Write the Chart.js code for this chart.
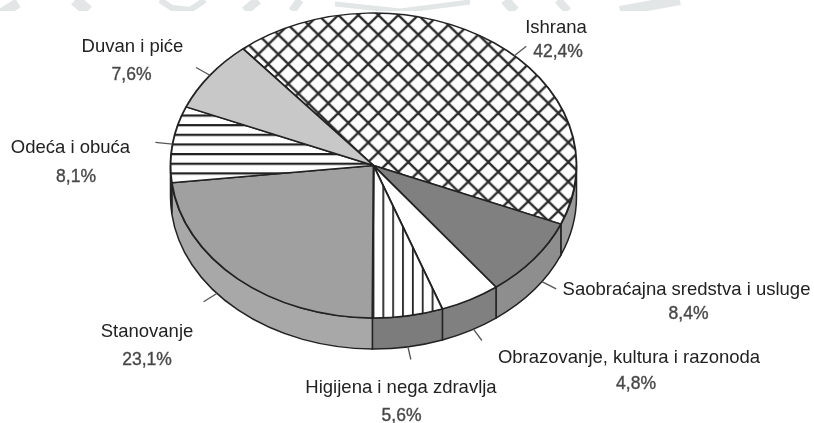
<!DOCTYPE html>
<html>
<head>
<meta charset="utf-8">
<style>
html, body { margin: 0; padding: 0; background: #fff; }
#wrap { position: relative; width: 814px; height: 423px; }
</style>
<script src="https://cdn.jsdelivr.net/npm/chart.js@4"></script>
</head>
<body>
<div id="wrap"><canvas id="grafica" width="814" height="423"></canvas></div>
<script>
const categorias = ['Ishrana', 'Saobraćajna sredstva i usluge', 'Obrazovanje, kultura i razonoda',
    'Higijena i nega zdravlja', 'Stanovanje', 'Odeća i obuća', 'Duvan i piće'];
const valores = [42.4, 8.4, 4.8, 5.6, 23.1, 8.1, 7.6];

// colores del borde lateral
const coloresLado = ['#9a9a9a', '#8e8e8e', '#808080', '#7c7c7c', '#a8a8a8', '#a8a8a8', '#a8a8a8'];

// geometria del pie "3D"
const centroY = 165.5, radio = 203, aplastar = 0.751, grosor = 31;

// donde va cada etiqueta: [x centro nombre, y nombre, x centro %, y %]
const posEtiquetas = [
    [556, 28, 558, 52],
    [686.5, 290, 688.5, 314],
    [629, 358, 636, 384],
    [401, 388, 401.5, 416],
    [147, 332, 147, 360],
    [70.5, 148, 76, 177],
    [132.5, 47, 131.5, 75]
];
// ajuste en grados de la marquita respecto a la mitad del sector
const ajusteMarca = [7.6, -3.8, -1, 0, 8.6, 0, 0];

// marca de agua que asoma arriba de la imagen
const marcaAgua = [
    [[0, 14], [18, 3], 10], [[75, 0], [88, 11], 12],
    [[160, 0], [172, 8], [190, 10], [205, 0], 6], [[258, 0], [245, 11], 9],
    [[300, 0], [292, 11], 8], [[335, 4], [400, 11], [470, 2], 5],
    [[505, 0], [515, 11], 10], [[558, 0], [568, 11], 8], [[680, 0], [620, 11], 10]
];

function patron(tipo, cy) {
    const t = document.createElement('canvas');
    const g = t.getContext('2d');
    let m = new DOMMatrix();
    if (tipo === 'h') {
        t.width = 10; t.height = 10;
        g.fillStyle = '#fff'; g.fillRect(0, 0, 10, 10);
        g.fillStyle = '#222'; g.fillRect(0, 0, 10, 2.3);
        m = m.translate(0, cy + (153 - centroY) / aplastar).scale(1, 0.965 / aplastar);
    } else if (tipo === 'v') {
        t.width = 10; t.height = 10;
        g.fillStyle = '#fff'; g.fillRect(0, 0, 10, 10);
        g.fillStyle = '#222'; g.fillRect(0, 0, 1.8, 10);
        m = m.translate(372.5, 0).scale(0.985, 1);
    } else {
        t.width = 20; t.height = 20;
        g.fillStyle = '#fff'; g.fillRect(0, 0, 20, 20);
        g.strokeStyle = '#2a2a2a'; g.lineWidth = 2.3;
        g.beginPath();
        g.moveTo(-10, 10); g.lineTo(10, -10);
        g.moveTo(0, 20); g.lineTo(20, 0);
        g.moveTo(10, 30); g.lineTo(30, 10);
        g.moveTo(-10, 10); g.lineTo(10, 30);
        g.moveTo(0, 0); g.lineTo(20, 20);
        g.moveTo(10, -10); g.lineTo(30, 10);
        g.stroke();
        m = m.translate(8.3, -1.9).scale(1, 0.98 / aplastar);
    }
    const p = g.createPattern(t, 'repeat');
    p.setTransform(m);
    return p;
}

const centroCanvas = 211.5;
const coloresCara = [patron('x', centroCanvas), '#808080', '#ffffff', patron('v', centroCanvas), '#a0a0a0', patron('h', centroCanvas), '#c8c8c8'];

const pie3d = {
    id: 'pie3d',
    beforeDraw(chart) {
        const ctx = chart.ctx;
        ctx.save();
        ctx.beginPath();
        ctx.rect(0, 0, 814, 11);
        ctx.clip();
        ctx.strokeStyle = '#e3e6e6';
        marcaAgua.forEach(trazo => {
            ctx.lineWidth = trazo[trazo.length - 1];
            ctx.beginPath();
            trazo.slice(0, -1).forEach(p => ctx.lineTo(p[0], p[1]));
            ctx.stroke();
        });
        ctx.restore();
    },
    beforeDatasetsDraw(chart) {
        const ctx = chart.ctx;
        const arcos = chart.getDatasetMeta(0).data;
        const cx = arcos[0].x, cy = arcos[0].y;

        // borde lateral, solo la mitad de adelante
        ctx.save();
        ctx.lineWidth = 1.5;
        ctx.strokeStyle = '#222';
        arcos.forEach((a, i) => {
            const a0 = Math.max(a.startAngle, 0);
            const a1 = Math.min(a.endAngle, Math.PI);
            if (a1 <= a0) return;
            ctx.beginPath();
            ctx.ellipse(cx, centroY, radio, radio * aplastar, 0, a0, a1);
            ctx.ellipse(cx, centroY + grosor, radio, radio * aplastar, 0, a1, a0, true);
            ctx.closePath();
            ctx.fillStyle = coloresLado[i];
            ctx.fill();
            ctx.stroke();
        });
        ctx.restore();

        // cara de arriba aplastada
        ctx.save();
        ctx.translate(0, centroY);
        ctx.scale(1, aplastar);
        ctx.translate(0, -cy);
    },
    afterDatasetsDraw(chart) {
        const ctx = chart.ctx;
        ctx.restore();

        const arcos = chart.getDatasetMeta(0).data;
        ctx.save();
        ctx.textAlign = 'center';
        ctx.textBaseline = 'middle';
        arcos.forEach((a, i) => {
            const medio = (a.startAngle + a.endAngle) / 2 + ajusteMarca[i] * Math.PI / 180;
            const dx = Math.cos(medio), dy = Math.sin(medio);
            const extra = (dy > 0 && Math.abs(dx) < 0.95) ? grosor : 0;
            ctx.strokeStyle = '#555';
            ctx.lineWidth = 1.3;
            ctx.beginPath();
            ctx.moveTo(a.x + dx * radio, centroY + extra + dy * radio * aplastar);
            ctx.lineTo(a.x + dx * radio * 1.085, centroY + extra + dy * radio * aplastar * 1.085);
            ctx.stroke();

            const p = posEtiquetas[i];
            ctx.fillStyle = '#222';
            ctx.font = '18.5px "Liberation Sans"';
            ctx.fillText(categorias[i], p[0], p[1]);

            // el porcentaje se ve un poco mas grueso y gris
            const pct = valores[i].toFixed(1).replace('.', ',') + '%';
            ctx.font = '17.5px "Liberation Sans"';
            ctx.fillStyle = '#444';
            ctx.strokeStyle = '#555';
            ctx.lineWidth = 0.4;
            ctx.fillText(pct, p[2], p[3]);
            ctx.strokeText(pct, p[2], p[3]);
        });
        ctx.restore();
    }
};

new Chart(document.getElementById('grafica').getContext('2d'), {
    type: 'pie',
    data: {
        labels: categorias,
        datasets: [{
            data: valores,
            backgroundColor: coloresCara,
            borderColor: '#222',
            borderWidth: 1.9,
            radius: radio,
            clip: false
        }]
    },
    options: {
        responsive: false,
        animation: false,
        rotation: -40,
        layout: { padding: { right: 67 } },
        plugins: { legend: { display: false }, tooltip: { enabled: false } }
    },
    plugins: [pie3d]
});
</script>
</body>
</html>
